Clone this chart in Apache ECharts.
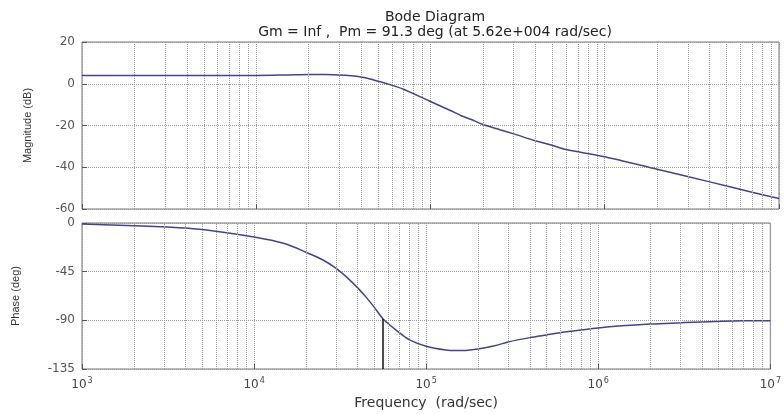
<!DOCTYPE html>
<html lang="en">

<head>
    <meta charset="UTF-8">
    <title>Bode Diagram</title>
    <script src="https://cdn.jsdelivr.net/npm/echarts@6/dist/echarts.min.js"></script>
    <style>
        body { margin: 0; background: #fff; }
    </style>
</head>

<body>
    <div id="main" style="width: 784px; height: 414px;"></div>
    <script>
        // frequency points (rad/sec)
        var freq = [1e3, 2e3, 3e3, 5e3, 1e4, 1.5e4, 2e4, 2.5e4, 3e4, 3.5e4, 4e4, 4.5e4, 5e4, 5.62e4,
            7e4, 8e4, 1e5, 1.3e5, 1.5e5, 1.7e5, 2e5, 2.5e5, 3e5, 4e5, 5e5, 6e5, 1e6, 2e6, 4e6, 7e6, 1e7];
        // magnitude (dB)
        var magnitude = [4.0, 4.0, 4.0, 4.0, 4.0, 4.2, 4.4, 4.4, 4.2, 3.8, 3.2, 2.3, 1.2, 0.0,
            -2.6, -4.8, -8.5, -12.8, -15.3, -17.0, -19.5, -22.0, -24.0, -27.3, -29.5, -31.5, -35.0, -41.0, -47.0, -52.0, -55.0];
        // phase (deg)
        var phase = [-1, -2.5, -3.5, -6, -13, -19, -27, -34, -42, -51, -60, -69, -78, -88.7,
            -101.5, -108, -114, -117.5, -118, -117.8, -116.5, -113.5, -110, -106, -103.5, -101.5, -97, -93.5, -91.5, -90.5, -90.3];

        // phase margin point
        var pmFreq = 5.62e4;
        var pmPhase = -88.7;

        var magTicks = [-60, 20, 20];   // min, max, interval
        var phaseTicks = [-135, 0, 45];

        var decades = [3, 4, 5, 6, 7];

        // minor log grid: 2..9 inside each decade
        var minorLines = [];
        for (var d = decades[0]; d < decades[decades.length - 1]; d++) {
            for (var k = 2; k <= 9; k++) {
                minorLines.push({ xAxis: k * Math.pow(10, d) });
            }
        }

        function pairs(ys) {
            return freq.map(function (f, i) { return [f, ys[i]]; });
        }

        var gridLine = { type: 'dotted', color: '#9a9a9a', width: 1 };
        var font = 'DejaVu Sans, Verdana, sans-serif';
        var nameFont = 'Liberation Sans, Arial, sans-serif';
        var lineColor = '#43438c';

        function xAxis(gridIndex, showLabels) {
            return {
                type: 'log',
                logBase: 10,
                gridIndex: gridIndex,
                min: Math.pow(10, decades[0]),
                max: Math.pow(10, decades[decades.length - 1]),
                axisLine: { show: false, onZero: false },
                axisTick: { show: true, inside: true, length: 5, lineStyle: { color: '#555' } },
                splitLine: { show: true, lineStyle: gridLine },
                axisLabel: {
                    show: showLabels,
                    margin: 8,
                    formatter: function (v) {
                        return '{b|10}{s|' + Math.round(Math.log10(v)) + '}';
                    },
                    rich: {
                        b: { fontFamily: font, fontSize: 12, color: '#444' },
                        s: { fontFamily: font, fontSize: 8, color: '#444', verticalAlign: 'top', padding: [0, 0, 8, 1] }
                    }
                },
                name: showLabels ? 'Frequency  (rad/sec)' : '',
                nameLocation: 'middle',
                nameGap: 27,
                nameTextStyle: { fontFamily: font, fontSize: 14, color: '#333' }
            };
        }

        function yAxis(gridIndex, ticks, name, gap) {
            return {
                type: 'value',
                gridIndex: gridIndex,
                min: ticks[0],
                max: ticks[1],
                interval: ticks[2],
                axisLine: { show: false, onZero: false },
                axisTick: { show: true, inside: true, length: 5, lineStyle: { color: '#555' } },
                splitLine: { show: true, lineStyle: gridLine },
                axisLabel: { fontFamily: font, fontSize: 12, color: '#555', margin: 7 },
                name: name,
                nameLocation: 'middle',
                nameGap: gap,
                nameRotate: 90,
                nameTextStyle: { fontFamily: nameFont, fontSize: 11, color: '#333' }
            };
        }

        var myChart = echarts.init(document.getElementById('main'));

        var option = {
            animation: false,
            backgroundColor: '#fff',
            title: {
                text: 'Bode Diagram',
                subtext: 'Gm = Inf ,  Pm = 91.3 deg (at 5.62e+004 rad/sec)',
                left: 430,
                textAlign: 'center',
                top: 5,
                itemGap: 1,
                textStyle: { fontFamily: font, fontSize: 14, fontWeight: 'normal', color: '#222' },
                subtextStyle: { fontFamily: font, fontSize: 14, color: '#222' }
            },
            grid: [
                { left: 82, top: 42, width: 697, height: 167, show: true, borderColor: '#777', borderWidth: 1 },
                { left: 82, top: 223, width: 697, height: 146, show: true, borderColor: '#777', borderWidth: 1 }
            ],
            xAxis: [xAxis(0, false), xAxis(1, true)],
            yAxis: [
                yAxis(0, magTicks, 'Magnitude (dB)', 49),
                yAxis(1, phaseTicks, 'Phase (deg)', 61)
            ],
            series: [{
                type: 'line',
                xAxisIndex: 0,
                yAxisIndex: 0,
                data: pairs(magnitude),
                symbol: 'none',
                smooth: 0.3,
                lineStyle: { color: lineColor, width: 1.5 },
                markLine: {
                    silent: true,
                    symbol: 'none',
                    label: { show: false },
                    lineStyle: gridLine,
                    data: minorLines
                }
            }, {
                type: 'line',
                xAxisIndex: 1,
                yAxisIndex: 1,
                data: pairs(phase),
                symbol: 'none',
                smooth: 0.3,
                lineStyle: { color: lineColor, width: 1.5 },
                markLine: {
                    silent: true,
                    symbol: 'none',
                    label: { show: false },
                    lineStyle: gridLine,
                    data: minorLines.concat([[
                        { coord: [pmFreq, pmPhase], lineStyle: { type: 'solid', color: '#111', width: 1.5 } },
                        { coord: [pmFreq, phaseTicks[0]] }
                    ]])
                }
            }]
        };

        myChart.setOption(option);
    </script>
</body>

</html>
